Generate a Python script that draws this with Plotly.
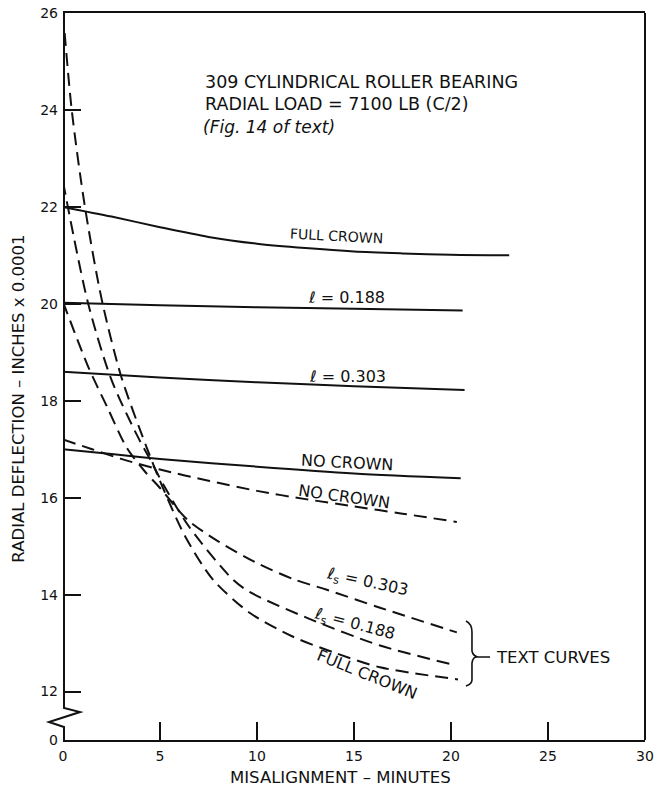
import plotly.graph_objects as go

# ---------------- data ----------------
# solid curves
full_crown_x = [0, 2.5, 5, 7.5, 10, 12.5, 15, 17.5, 20, 23]
full_crown_y = [22.0, 21.8, 21.58, 21.38, 21.24, 21.15, 21.08, 21.04, 21.01, 21.0]
l188_x = [0, 5, 10, 15, 20.6]
l188_y = [20.02, 19.97, 19.93, 19.9, 19.86]
l303_x = [0, 5, 10, 15, 20.7]
l303_y = [18.6, 18.48, 18.38, 18.3, 18.22]
no_crown_x = [0, 2.5, 5, 10, 15, 20.5]
no_crown_y = [17.0, 16.9, 16.8, 16.64, 16.5, 16.4]

# dashed curves
no_crown_d_x = [0, 1.5, 3, 5, 7.5, 10, 12.5, 15, 17.5, 20.3]
no_crown_d_y = [17.2, 17.0, 16.8, 16.58, 16.35, 16.14, 15.97, 15.82, 15.67, 15.5]
text_full_x = [0, 0.45, 1.13, 2.0, 3.0, 4.3, 5.1, 6.3, 7.73, 9.64, 11.86, 14, 16.34, 20.36]
text_full_y = [26.0, 24.0, 22.0, 20.08, 18.5, 17.05, 16.25, 15.2, 14.31, 13.62, 13.13, 12.8, 12.5, 12.25]
text_l188_x = [0, 1.3, 2.5, 3.8, 4.5, 5.2, 6.5, 8.76, 9.64, 12.7, 16.34, 20.05]
text_l188_y = [22.52, 20.0, 18.43, 17.3, 16.78, 16.25, 15.4, 14.31, 14.05, 13.5, 12.95, 12.56]
text_l303_x = [0, 1.3, 2.3, 3.3, 4.2, 5.0, 6.4, 8, 10.15, 12, 13.6, 16.34, 20.3]
text_l303_y = [20.04, 18.7, 17.85, 17.02, 16.55, 16.2, 15.55, 15.1, 14.62, 14.3, 14.1, 13.73, 13.22]

x_ticks = [0, 5, 10, 15, 20, 25, 30]
y_break = 11.0  # axis bottom (shown as 0, broken axis)
y_ticks = [y_break, 12, 14, 16, 18, 20, 22, 24, 26]
y_ticktext = ["0", "12", "14", "16", "18", "20", "22", "24", "26"]

FONT = "DejaVu Sans"
BLACK = "#111111"

fig = go.Figure()

solid = dict(color=BLACK, width=2)
dashed = dict(color=BLACK, width=2, dash="13px,7px")

for xs, ys in [(full_crown_x, full_crown_y), (l188_x, l188_y),
               (l303_x, l303_y), (no_crown_x, no_crown_y)]:
    fig.add_trace(go.Scatter(x=xs, y=ys, mode="lines",
                             line=dict(shape="spline", smoothing=0.8, **solid),
                             showlegend=False, hoverinfo="skip"))

for xs, ys in [(no_crown_d_x, no_crown_d_y), (text_full_x, text_full_y),
               (text_l188_x, text_l188_y), (text_l303_x, text_l303_y)]:
    fig.add_trace(go.Scatter(x=xs, y=ys, mode="lines",
                             line=dict(shape="spline", smoothing=0.8, **dashed),
                             showlegend=False, hoverinfo="skip"))

# ---------------- annotations ----------------
def note(text, x, y, size=16, angle=0, xanchor="center", italic=False):
    fig.add_annotation(x=x, y=y, xref="x", yref="y", text=text, showarrow=False,
                       textangle=angle, xanchor=xanchor, yanchor="middle",
                       font=dict(family=FONT, size=size, color=BLACK,
                                 style="italic" if italic else "normal"))

note("309 CYLINDRICAL ROLLER BEARING", 7.2, 24.58, size=17.5, xanchor="left")
note("RADIAL LOAD = 7100 LB (C/2)", 7.2, 24.12, size=17.5, xanchor="left")
note("(Fig. 14 of text)", 7.1, 23.65, size=17, xanchor="left", italic=True)

note("FULL CROWN", 14.12, 21.40, size=14, angle=3)
note("ℓ = 0.188", 14.6, 20.12)
note("ℓ = 0.303", 14.65, 18.51)
note("NO CROWN", 14.65, 16.73, angle=3)
note("NO CROWN", 14.5, 16.02, angle=8)
note("ℓ<sub>s</sub> = 0.303", 15.72, 14.26, angle=12)
note("ℓ<sub>s</sub> = 0.188", 15.05, 13.38, angle=15)
note("FULL CROWN", 15.7, 12.36, angle=22)
note("TEXT CURVES", 22.2, 12.71, size=16.5, xanchor="left")

# axis titles as annotations
fig.add_annotation(x=-0.078, y=0.469, xref="paper", yref="paper",
                   text="RADIAL DEFLECTION – INCHES x 0.0001", textangle=-90,
                   showarrow=False, xanchor="center", yanchor="middle",
                   font=dict(family=FONT, size=16.5, color=BLACK))
fig.add_annotation(x=0.476, y=-0.0515, xref="paper", yref="paper",
                   text="MISALIGNMENT – MINUTES", showarrow=False,
                   xanchor="center", yanchor="middle",
                   font=dict(family=FONT, size=16.5, color=BLACK))

# ---------------- frame: broken left axis, right border, brace ----------------
def px2paper(px, py):
    return (px - 63) / 582.0, (740 - py) / 727.0

zig = [(64, 13), (64, 708), (80, 712), (49, 722), (64, 727), (64, 740)]
pts = [px2paper(a, b) for a, b in zig]
path = "M " + " L ".join(f"{a:.4f},{b:.4f}" for a, b in pts)
fig.add_shape(type="path", path=path, xref="paper", yref="paper",
              line=dict(color=BLACK, width=2))
fig.add_shape(type="line", x0=1, x1=1, y0=0, y1=1, xref="paper", yref="paper",
              line=dict(color=BLACK, width=2))

# brace "}" and connecting dash
b = {k: px2paper(*v) for k, v in {
    "t": (466, 621), "t1": (472, 624), "t2": (472, 632), "m1": (472, 651),
    "m0": (473, 656), "p": (478, 657), "m2": (472, 663), "b2": (472, 680),
    "b1": (472, 684), "b": (466, 686), "e": (490, 657)}.items()}
def P(k):
    return f"{b[k][0]:.4f},{b[k][1]:.4f}"
brace = (f"M {P('t')} Q {P('t1')} {P('t2')} L {P('m1')} Q {P('m0')} {P('p')} "
         f"Q {P('m0')} {P('m2')} L {P('b2')} Q {P('b1')} {P('b')} "
         f"M {P('p')} L {P('e')}")
fig.add_shape(type="path", path=brace, xref="paper", yref="paper",
              line=dict(color=BLACK, width=1.6))

fig.update_layout(
    width=663, height=786,
    margin=dict(l=63, r=18, t=13, b=46, autoexpand=False),
    paper_bgcolor="white", plot_bgcolor="white",
    showlegend=False,
    xaxis=dict(range=[0, 30], tickvals=x_ticks, ticks="inside", ticklen=18,
               tickwidth=1.5, tickcolor=BLACK, showline=True, mirror=True,
               linecolor=BLACK, linewidth=2, showgrid=False, zeroline=False,
               ticklabelstandoff=2, automargin=False,
               tickfont=dict(family=FONT, size=14, color=BLACK)),
    yaxis=dict(range=[y_break, 26], tickvals=y_ticks, ticktext=y_ticktext,
               ticks="inside", ticklen=18, tickwidth=1.5, tickcolor=BLACK,
               showline=False, showgrid=False, zeroline=False,
               ticklabelstandoff=4, automargin=False,
               tickfont=dict(family=FONT, size=14, color=BLACK)),
)

fig.write_html("out.html",
               config={"displayModeBar": False},
               post_script="document.body.style.margin='0';"
                           "document.body.style.overflow='hidden';")
